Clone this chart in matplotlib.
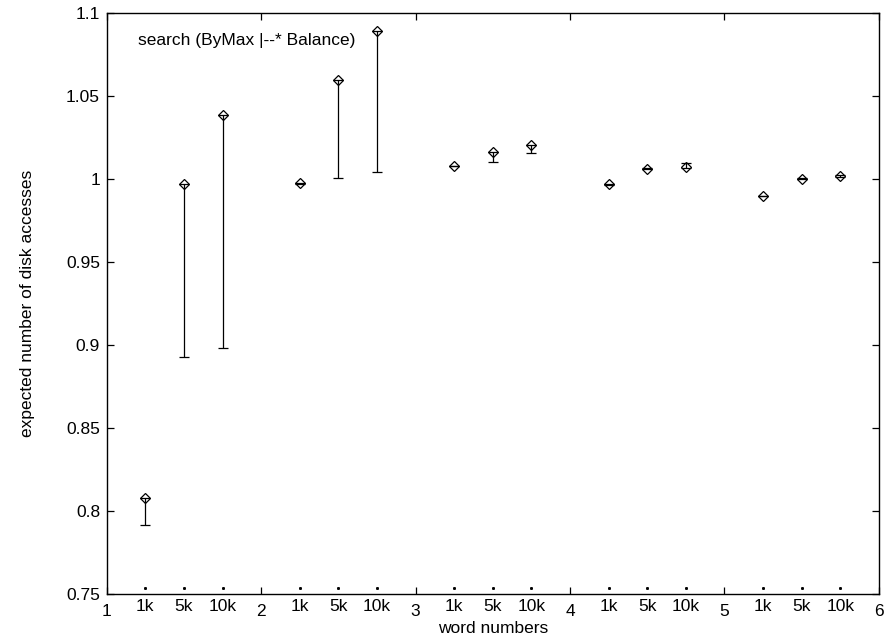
import matplotlib
matplotlib.use("Agg")
import matplotlib.pyplot as plt
import matplotlib.transforms as mtransforms
from matplotlib.ticker import FixedLocator, FuncFormatter

plt.rcParams["font.family"] = ["Liberation Sans", "DejaVu Sans"]

# x positions: group n holds 1k, 5k, 10k at n+0.25, n+0.5, n+0.75
groups = [1, 2, 3, 4, 5]
sizes = ["1k", "5k", "10k"]
offsets = [0.25, 0.5, 0.75]

# expected disk accesses (point) with lower / upper ends of the error bar
values = [
    0.808, 0.997, 1.0386,
    0.9975, 1.0596, 1.0892,
    1.0078, 1.0163, 1.0205,
    0.9968, 1.0062, 1.0074,
    0.9898, 1.0002, 1.0018,
]
lows = [
    0.7914, 0.893, 0.898,
    0.9972, 1.0004, 1.0044,
    1.0076, 1.0104, 1.0159,
    0.9966, 1.0060, 1.0068,
    0.9896, 0.9998, 1.0014,
]
highs = [
    0.808, 0.997, 1.0386,
    0.9978, 1.0596, 1.0892,
    1.0080, 1.0165, 1.0207,
    0.9970, 1.0064, 1.0095,
    0.9900, 1.0006, 1.0022,
]

xs = [g + o for g in groups for o in offsets]
minor_labels = [s for g in groups for s in sizes]

FS = 12.5

fig = plt.figure(figsize=(8.86, 6.41), dpi=100)
ax = fig.add_axes([0.1204, 0.0733, 0.992 - 0.1204, 0.9797 - 0.0733])

yerr = [[v - lo for v, lo in zip(values, lows)],
        [hi - v for v, hi in zip(values, highs)]]
ax.errorbar(xs, values, yerr=yerr, fmt="D", color="black", mfc="none",
            mec="black", ms=5, mew=0.9, elinewidth=0.9, capsize=3.3,
            capthick=0.9, ecolor="black")

# small dot marks just above the bottom axis at each size position
trans = mtransforms.blended_transform_factory(ax.transData, ax.transAxes)
ax.plot(xs, [0.011] * len(xs), linestyle="none", marker="s", ms=1.1,
        color="black", transform=trans, clip_on=False)

ax.set_xlim(1, 6)
ax.set_ylim(0.75, 1.1)

ax.xaxis.set_major_locator(FixedLocator([1, 2, 3, 4, 5, 6]))
ax.xaxis.set_minor_locator(FixedLocator(xs))
ax.xaxis.set_minor_formatter(FuncFormatter(lambda v, p: minor_labels[p] if p < len(minor_labels) else ""))
ax.set_yticks([0.75, 0.8, 0.85, 0.9, 0.95, 1.0, 1.05, 1.1])
ax.yaxis.set_major_formatter(FuncFormatter(lambda v, p: "%g" % round(v, 2)))

ax.tick_params(axis="both", which="major", direction="in", length=5,
               width=0.9, labelsize=FS, top=True, right=True)
ax.tick_params(axis="x", which="major", pad=7.2)
ax.tick_params(axis="y", which="major", pad=4.8)
ax.tick_params(axis="x", which="minor", length=0, pad=3.4, labelsize=FS)

for spine in ax.spines.values():
    spine.set_linewidth(1.0)

ax.set_xlabel("word numbers", fontsize=FS)
ax.xaxis.set_label_coords(0.5, -0.047)
ax.set_ylabel("expected number of disk accesses", fontsize=FS, va="center")
ax.yaxis.set_label_coords(-0.102, 0.5)

ax.text(1.2, 1.0837, "search (ByMax |--* Balance)", fontsize=FS,
        ha="left", va="center")

fig.savefig("out.png", dpi=100)
